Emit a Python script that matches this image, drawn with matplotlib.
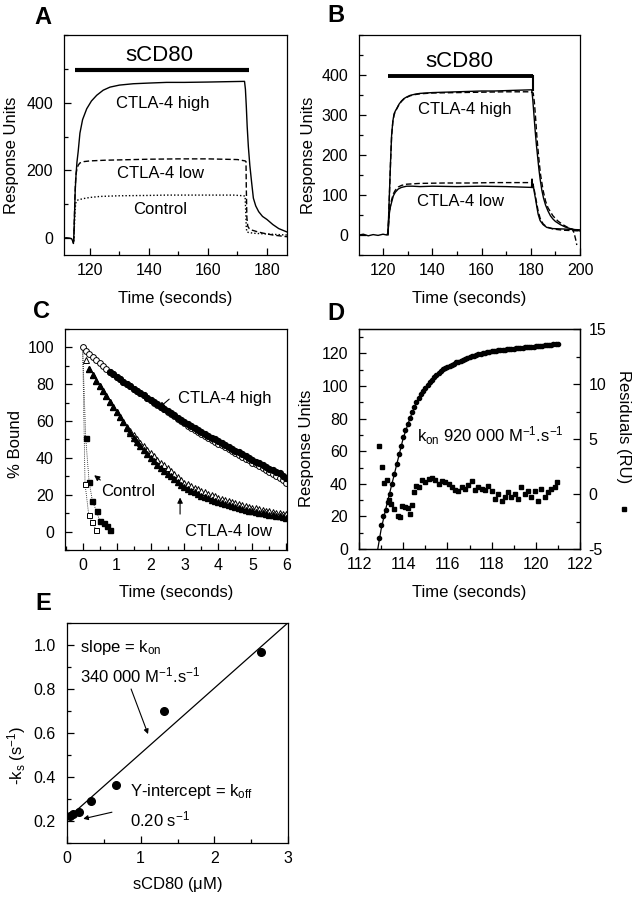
import numpy as np
import matplotlib
matplotlib.use('Agg')
import matplotlib.pyplot as plt
from matplotlib.ticker import MultipleLocator, FixedLocator, FormatStrFormatter
from matplotlib.lines import Line2D

plt.rcParams['font.family'] = ['Liberation Sans', 'DejaVu Sans']
plt.rcParams['mathtext.fontset'] = 'custom'
plt.rcParams['mathtext.rm'] = 'Liberation Sans'
plt.rcParams['mathtext.it'] = 'Liberation Sans'
plt.rcParams['mathtext.bf'] = 'Liberation Sans:bold'
plt.rcParams['axes.unicode_minus'] = False

# ---------------- Panel A data ----------------
a_high_t = [111.2, 112, 113, 113.8, 114.2, 114.4, 114.6, 114.8, 115.0, 115.3, 115.6, 116.0, 116.6, 117.5,
            118.9, 120.5, 122.3, 124.5, 126.8, 130, 134.7, 140, 146, 152, 160, 166, 172.4, 172.7, 173.0,
            173.3, 173.7, 174.2, 174.8, 175.4, 176.2, 177.2, 178.5, 180, 182, 184, 186.8]
a_high_v = [0, 1, 0, -2, -10, -16, 20, 80, 140, 190, 225, 255, 310, 350, 382, 405, 422, 437, 446, 452, 456,
            458, 460, 460, 461, 462, 463, 440, 390, 330, 270, 215, 165, 118, 95, 78, 64, 55, 40, 28, 18]
a_low_t = [114.5, 114.7, 114.9, 115.1, 115.3, 115.6, 116.0, 116.6, 118, 120, 125, 130, 140, 150, 160, 165,
           170, 172.6, 172.9, 173.0, 173.2, 173.5, 174.0, 174.7, 175.5, 177, 179, 182, 186.8]
a_low_v = [-10, 50, 120, 165, 190, 205, 215, 222, 226, 228, 230, 231, 233, 234, 234, 233, 232, 228, 226, 150,
           60, 35, 28, 24, 22, 18, 14, 9, 4]
a_ctrl_t = [114.5, 114.8, 115.0, 115.3, 116, 118, 120, 123.4, 130, 140, 146, 160, 168.6, 172, 172.6, 172.8,
            173.0, 173.2, 174, 176, 180, 186.8]
a_ctrl_v = [-10, 50, 90, 108, 113, 117, 120, 123, 125, 126, 127, 127, 127, 125, 124, 80, 30, 18, 16, 14, 12, 9]

# ---------------- Panel B data ----------------
b_high_t = [110.3, 112, 114, 116, 118, 120, 121.5, 122.0, 122.3, 122.7, 123.1, 123.5, 124.0, 124.5, 125.0,
            125.6, 126.5, 127.5, 128.5, 129.6, 131, 133, 135, 140, 145, 150, 155, 160, 165, 170, 175, 180.4,
            180.8, 181.3, 181.8, 182.3, 182.8, 183.3, 183.8, 184.5, 185.2, 186, 187, 188, 189, 190, 192, 194,
            196, 198, 200]
b_high_v = [0, 2, -2, 1, -1, 2, 0, 5, 50, 120, 190, 250, 285, 303, 310, 316, 327, 335, 341, 345, 349, 352, 354,
            356, 357, 358, 359, 360, 360, 361, 362, 363, 340, 300, 260, 225, 195, 165, 140, 112, 92, 75, 60, 48,
            40, 34, 26, 20, 16, 13, 10]
b_highfit_t = [122.0, 122.3, 122.7, 123.1, 123.5, 124.0, 124.5, 125.0, 125.6, 126.5, 127.5, 128.5, 129.6, 131,
               133, 135, 140, 150, 160, 170, 180.0, 181.0, 181.5, 182.0, 182.5, 183.0, 183.5, 184.0, 185.0,
               186.0, 187.0, 189.0, 191.0, 193.0, 195.0, 197.0, 197.6, 198.2, 198.7]
b_highfit_v = [2, 45, 118, 188, 248, 283, 300, 309, 316, 326, 334, 340, 344, 348, 351, 353, 355, 356, 357, 358,
               358, 355, 330, 290, 245, 210, 178, 150, 112, 85, 68, 48, 35, 26, 19, 14, 5, -10, -25]
b_low_t = [122.0, 122.3, 122.6, 123.0, 123.5, 124.2, 125.0, 126.2, 127.5, 129.6, 132, 135, 140, 150, 160, 170,
           180.3, 180.5, 180.6, 180.8, 181.05, 181.5, 182.0, 182.4, 183.0, 183.8, 185.0, 186.5, 189, 193.2, 196,
           200]
b_low_v = [0, 30, 55, 70, 82, 98, 107, 115, 119, 122, 122, 121, 122, 121, 122, 121, 119, 140, 118, 128, 123,
           105, 88, 73, 52, 36, 26, 19, 16, 15, 14, 13]
b_lowfit_t = [122.0, 122.3, 122.6, 123.0, 123.5, 124.2, 125.0, 126.2, 127.5, 129.6, 135, 145, 155, 165, 175,
              180.6, 181.2, 181.8, 182.4, 183.0, 183.8, 185.0, 186.5, 189, 193, 197, 200]
b_lowfit_v = [0, 32, 58, 74, 88, 103, 112, 120, 124, 127, 129, 130, 130, 131, 131, 131, 120, 100, 80, 60, 42,
              28, 20, 15, 12, 11, 10]

# ---------------- Panel C data ----------------
c_t = np.linspace(0.0, 6.0, 61)
c_high_open = [100, 98.2, 96.4, 94.7, 93.1, 91.5, 89.9, 88.4, 86.9, 85.4, 84.0, 82.7, 81.4, 80.1, 78.8, 77.5,
               76.3, 75.1, 73.9, 72.7, 71.3, 70.0, 68.8, 67.6, 66.4, 65.1, 63.9, 62.6, 61.3, 60.0, 58.8, 57.6,
               56.4, 55.2, 54.1, 53.0, 51.9, 50.8, 49.8, 48.8, 47.8, 46.8, 45.8, 44.8, 43.8, 42.8, 41.7, 40.6,
               39.6, 38.6, 37.5, 36.5, 35.4, 34.3, 33.3, 32.3, 31.2, 30.1, 29.0, 27.9, 26.5]
c_high_fill = [None] * 8 + [86.9, 85.4, 84.0, 82.7, 81.4, 80.1, 78.8, 77.5, 76.3, 75.1, 73.9, 72.7, 71.5,
               70.3, 69.1, 67.9, 66.7, 65.5, 64.3, 63.1, 61.9, 60.7, 59.5, 58.4, 57.3, 56.2, 55.1, 54.0, 53.0,
               52.0, 51.0, 50.0, 49.0, 48.0, 47.0, 46.0, 45.0, 44.0, 43.0, 42.0, 41.0, 40.0, 39.0, 38.0, 37.0,
               36.0, 35.0, 34.0, 33.2, 32.5, 31.6, 30.2, 29.0]
c_low_open = [None, 93, 88.5, 85, 82, 79, 76.2, 73.4, 70.6, 67.8, 65.0, 62.1, 59.3, 56.9, 54.7, 52.5, 50.4,
              48.3, 46.3, 44.4, 42.5, 40.8, 39.1, 37.5, 36.0, 34.5, 32.9, 31.3, 29.7, 28.1, 26.5, 25.6, 24.7,
              23.8, 22.9, 22.0, 21.3, 20.6, 19.9, 19.2, 18.5, 17.9, 17.3, 16.7, 16.1, 15.5, 15.0, 14.5, 14.0,
              13.5, 13.0, 12.6, 12.2, 11.8, 11.4, 11.0, 10.7, 10.3, 10.0, 9.6, 9.3]
c_low_fill = [None, None, 88.5, 85, 82, 79, 76.2, 73.4, 70.6, 67.8, 65.0, 62.1, 59.3, 56.5, 53.7, 51.0, 48.7,
              46.5, 44.3, 42.1, 40.0, 38.2, 36.4, 34.7, 33.1, 31.5, 30.0, 28.5, 27.0, 25.5, 24.0, 23.1, 22.2,
              21.3, 20.4, 19.5, 18.8, 18.1, 17.4, 16.7, 16.0, 15.4, 14.9, 14.3, 13.8, 13.2, 12.8, 12.3, 11.9,
              11.4, 11.0, 10.6, 10.3, 9.9, 9.6, 9.2, 8.9, 8.5, 8.2, 7.8, 7.5]
c_ctrl_fill_t = [0.0, 0.09, 0.19, 0.29, 0.41, 0.50, 0.62, 0.72, 0.82]
c_ctrl_fill_v = [100, 51, 27, 16.5, 11, 6, 4.5, 2.8, 0.7]
c_ctrl_open_t = [0.0, 0.07, 0.18, 0.27, 0.40]
c_ctrl_open_v = [100, 26, 9, 5, 1]

# ---------------- Panel D data ----------------
d_t = np.linspace(112.9, 121.0, 82)
d_v = [7, 15, 20, 24, 29, 34, 40, 46, 52, 58, 63.5, 68.5, 73, 77, 80.5, 84, 87, 90, 92.5, 95, 97, 99, 100.8,
       102.5, 104, 105.5, 107, 108, 109, 110.2, 111, 111.8, 112.5, 113.2, 113.6, 114.5, 115, 115.6, 116.2, 116.8,
       117.3, 117.8, 118.3, 118.7, 119.1, 119.5, 119.9, 120.2, 120.5, 120.8, 121.1, 121.3, 121.5, 121.7, 121.9,
       122.1, 122.3, 122.4, 122.6, 122.8, 122.9, 123.0, 123.2, 123.3, 123.5, 123.6, 123.7, 123.8, 123.9, 124.0,
       124.2, 124.3, 124.4, 124.6, 124.7, 124.9, 125.0, 125.2, 125.4, 125.6, 125.8, 126.0]
d_fit_t = [112.85, 113.0, 113.2, 113.4, 113.6, 113.8, 114.0, 114.3, 114.6, 115.0, 115.5, 116, 116.5, 117, 117.5,
           118, 119, 120, 121]
d_fit_v = [0, 12, 24, 35, 46, 57, 68, 80, 90, 99, 107, 111.8, 115, 117.8, 119.9, 121.3, 123, 124.3, 126]
d_res_t = [112.9, 113.05, 113.15, 113.25, 113.35, 113.45, 113.6, 113.75, 113.85, 113.95, 114.1, 114.2, 114.3,
           114.4, 114.5, 114.6, 114.7, 114.85, 115.0, 115.15, 115.3, 115.45, 115.6, 115.75, 115.9, 116.05, 116.2,
           116.35, 116.5, 116.65, 116.8, 116.95, 117.1, 117.25, 117.4, 117.55, 117.7, 117.85, 118.0, 118.15,
           118.3, 118.45, 118.6, 118.75, 118.9, 119.05, 119.2, 119.35, 119.5, 119.65, 119.8, 119.95, 120.1,
           120.25, 120.4, 120.55, 120.7, 120.85, 120.95]
d_res_v = [4.4, 2.5, 1.0, 1.3, -0.5, -0.9, -1.4, -2.0, -2.1, -1.1, -1.2, -1.3, -1.8, -1.0, 0.2, 0.7, 0.6, 1.3,
           1.1, 1.4, 1.5, 1.3, 0.95, 1.2, 1.1, 0.9, 0.6, 0.4, 0.3, 0.6, 0.5, 0.8, 1.15, 0.4, 0.6, 0.45, 0.4, 0.7,
           0.3, -0.45, 0.0, -0.6, -0.3, 0.15, -0.3, 0.0, -0.45, 0.6, 0.0, 0.3, -0.25, 0.3, -0.65, 0.45, -0.3,
           0.15, 0.45, 0.6, 1.05]

# ---------------- Panel E data ----------------
e_conc = [0.041, 0.083, 0.165, 0.33, 0.66, 1.32, 2.64]
e_ks = [0.225, 0.23, 0.24, 0.29, 0.365, 0.70, 0.97]
e_intercept = 0.21
e_slope = 0.297

W, H = 639, 899
fig = plt.figure(figsize=(W / 100, H / 100), dpi=100)


def ax_px(l, t, r, b):
    return fig.add_axes([l / W, 1 - b / H, (r - l) / W, (b - t) / H])


def style(ax, xmaj, xmin, ymaj, ymin):
    ax.xaxis.set_major_locator(MultipleLocator(xmaj) if np.isscalar(xmaj) else FixedLocator(xmaj))
    ax.xaxis.set_minor_locator(MultipleLocator(xmin))
    ax.yaxis.set_major_locator(MultipleLocator(ymaj) if np.isscalar(ymaj) else FixedLocator(ymaj))
    ax.yaxis.set_minor_locator(MultipleLocator(ymin))
    ax.tick_params(which='both', direction='in', top=False, right=False, width=0.9, labelsize=11.5)
    ax.tick_params(which='major', length=5)
    ax.tick_params(which='minor', length=3)
    ax.tick_params(axis='y', pad=8)
    ax.tick_params(axis='x', pad=6)
    for s in ax.spines.values():
        s.set_linewidth(0.9)


def ftext(xp, yp, s, **kw):
    fig.text(xp / W, 1 - yp / H, s, ha='center', va='center', **kw)


LBL = 12
ANN = 12

# ---------- A ----------
axA = ax_px(64, 35, 287, 255)
axA.plot(a_high_t, a_high_v, color='k', lw=1.0)
axA.plot(a_low_t, a_low_v, color='k', lw=1.0, ls=(0, (4, 2)))
axA.plot(a_ctrl_t, a_ctrl_v, color='k', lw=1.0, ls=(0, (1, 1.5)))
axA.plot([115, 173.8], [498, 498], color='k', lw=3, solid_capstyle='butt')
axA.text(143.5, 524, 'sCD80', ha='center', va='baseline', fontsize=16)
axA.text(144.6, 384, 'CTLA-4 high', ha='center', va='baseline', fontsize=ANN)
axA.text(144.0, 178, 'CTLA-4 low', ha='center', va='baseline', fontsize=ANN)
axA.text(143.8, 72, 'Control', ha='center', va='baseline', fontsize=ANN)
axA.set_xlim(111.2, 186.8)
axA.set_ylim(-50, 600)
style(axA, 20, 10, [0, 200, 400], 100)

# ---------- B ----------
axB = ax_px(359, 35, 580, 255)
axB.plot(b_high_t, b_high_v, color='k', lw=1.0)
axB.plot(b_highfit_t, b_highfit_v, color='k', lw=1.0, ls=(0, (4, 2)))
axB.plot(b_low_t, b_low_v, color='k', lw=1.0)
axB.plot(b_lowfit_t, b_lowfit_v, color='k', lw=1.0, ls=(0, (4, 2)))
axB.plot([122, 180.8], [397, 397], color='k', lw=2.8, solid_capstyle='butt')
axB.plot([180.8, 180.8], [397, 362], color='k', lw=1.5)
axB.text(150.9, 419, 'sCD80', ha='center', va='baseline', fontsize=16)
axB.text(134.3, 302, 'CTLA-4 high', ha='left', va='baseline', fontsize=ANN)
axB.text(133.7, 72, 'CTLA-4 low', ha='left', va='baseline', fontsize=ANN)
axB.set_xlim(110.25, 200)
axB.set_ylim(-50, 500)
style(axB, 20, 10, [0, 100, 200, 300, 400], 50)

# ---------- C ----------
axC = ax_px(65, 329, 287, 550)
ms = 4.2
axC.plot(c_ctrl_fill_t, c_ctrl_fill_v, color='k', lw=0.6, ls=(0, (1, 1.5)))
axC.plot(c_ctrl_open_t, c_ctrl_open_v, color='k', lw=0.6, ls=(0, (1, 1.5)))
axC.plot(c_ctrl_fill_t[1:], c_ctrl_fill_v[1:], ls='none', marker='s', ms=3.6, mfc='k', mec='k')
axC.plot(c_ctrl_open_t[1:], c_ctrl_open_v[1:], ls='none', marker='s', ms=3.6, mfc='white', mec='k', mew=0.7)
lo = np.array([np.nan if v is None else v for v in c_low_open], dtype=float)
lf = np.array([np.nan if v is None else v for v in c_low_fill], dtype=float)
ho = np.array(c_high_open, dtype=float)
hf = np.array([np.nan if v is None else v for v in c_high_fill], dtype=float)
axC.plot(c_t, lo, ls='none', marker='^', ms=ms, mfc='white', mec='k', mew=0.7)
axC.plot(c_t, lf, ls='none', marker='^', ms=ms, mfc='k', mec='k')
axC.plot(c_t, ho, ls='none', marker='o', ms=ms, mfc='white', mec='k', mew=0.7)
axC.plot(c_t, hf, ls='none', marker='o', ms=ms, mfc='k', mec='k')
axC.text(2.8, 70, 'CTLA-4 high', ha='left', va='baseline', fontsize=ANN)
axC.text(0.55, 19.2, 'Control', ha='left', va='baseline', fontsize=ANN)
axC.text(3.01, -2.2, 'CTLA-4 low', ha='left', va='baseline', fontsize=ANN)
arr = dict(arrowstyle='-|>', color='k', lw=0.8, mutation_scale=8, shrinkA=0, shrinkB=0)
axC.annotate('', xy=(2.25, 67.2), xytext=(2.55, 71.9), arrowprops=arr)
axC.annotate('', xy=(0.34, 30.6), xytext=(0.52, 28.0), arrowprops=arr)
axC.annotate('', xy=(2.87, 18.5), xytext=(2.87, 9.5), arrowprops=arr)
axC.set_xlim(-0.52, 6.02)
axC.set_ylim(-10, 110)
style(axC, 1, 0.5, [0, 20, 40, 60, 80, 100], 10)

# ---------- D ----------
axD = ax_px(359, 329, 580, 549)
axD.plot(d_fit_t, d_fit_v, color='k', lw=0.9)
axD.plot(d_t, d_v, ls='none', marker='o', ms=3.0, mfc='k', mec='k')
axD.set_xlim(112, 122)
axD.set_ylim(0, 135)
style(axD, 2, 1, 20, 10)
axD.text(114.61, 65.8, r'k$_\mathregular{on}$ 920 000 M$^\mathregular{-1}$.s$^\mathregular{-1}$',
         ha='left', va='baseline', fontsize=ANN)
axR = axD.twinx()
axR.plot(d_res_t, d_res_v, ls='none', marker='s', ms=2.8, mfc='k', mec='k')
axR.set_ylim(-5, 15)
axR.yaxis.set_major_locator(MultipleLocator(5))
axR.yaxis.set_minor_locator(MultipleLocator(2.5))
axR.tick_params(which='both', direction='in', right=True, left=False, width=0.9, labelsize=11.5, pad=6)
axR.tick_params(which='major', length=5)
axR.tick_params(which='minor', length=3)
for s in axR.spines.values():
    s.set_linewidth(0.9)

# ---------- E ----------
axE = ax_px(67, 623, 288, 843)
ex = np.array([0.0, 3.0])
axE.plot(ex, e_intercept + e_slope * ex, color='k', lw=0.9)
axE.plot(e_conc, e_ks, ls='none', marker='o', ms=5.5, mfc='k', mec='k')
axE.text(0.17, 0.968, r'slope = k$_\mathregular{on}$', ha='left', va='baseline', fontsize=ANN)
axE.text(0.17, 0.832, r'340 000 M$^\mathregular{-1}$.s$^\mathregular{-1}$', ha='left', va='baseline',
         fontsize=ANN)
axE.text(0.855, 0.315, r'Y-intercept = k$_\mathregular{off}$', ha='left', va='baseline', fontsize=ANN)
axE.text(0.855, 0.177, r'0.20 s$^\mathregular{-1}$', ha='left', va='baseline', fontsize=ANN)
arr2 = dict(arrowstyle='-|>', color='k', lw=0.8, mutation_scale=7, shrinkA=0, shrinkB=0)
axE.annotate('', xy=(1.10, 0.595), xytext=(0.87, 0.80), arrowprops=arr2)
axE.annotate('', xy=(0.22, 0.21), xytext=(0.61, 0.24), arrowprops=arr2)
axE.set_xlim(0, 3)
axE.set_ylim(0.1, 1.1)
style(axE, 1, 0.5, [0.2, 0.4, 0.6, 0.8, 1.0], 0.1)
axE.yaxis.set_major_formatter(FormatStrFormatter('%.1f'))

# ---------- labels ----------
ftext(12, 155, 'Response Units', rotation=90, fontsize=LBL)
ftext(308, 155, 'Response Units', rotation=90, fontsize=LBL)
ftext(175.5, 299, 'Time (seconds)', fontsize=LBL)
ftext(469.5, 299, 'Time (seconds)', fontsize=LBL)
ftext(15, 444, '% Bound', rotation=90, fontsize=LBL)
ftext(307, 448, 'Response Units', rotation=90, fontsize=LBL)
ftext(623, 427, 'Residuals (RU)', rotation=270, fontsize=LBL)
fig.add_artist(Line2D([624 / W], [1 - 509 / H], marker='s', ms=3, color='k', ls='none',
                      transform=fig.transFigure))
ftext(176, 593, 'Time (seconds)', fontsize=LBL)
ftext(469.5, 593, 'Time (seconds)', fontsize=LBL)
ftext(17, 755, r'-k$_\mathregular{s}$ (s$^\mathregular{-1}$)', rotation=90, fontsize=LBL)
ftext(177.5, 885, r'sCD80 ($\mathregular{\mu}$M)', fontsize=LBL)

for lab, xp, yp in [('A', 43, 18), ('B', 336, 15), ('C', 41, 312), ('D', 336, 313), ('E', 43, 604)]:
    ftext(xp, yp, lab, fontsize=17, fontweight='bold')

fig.savefig('out.png', dpi=100)
